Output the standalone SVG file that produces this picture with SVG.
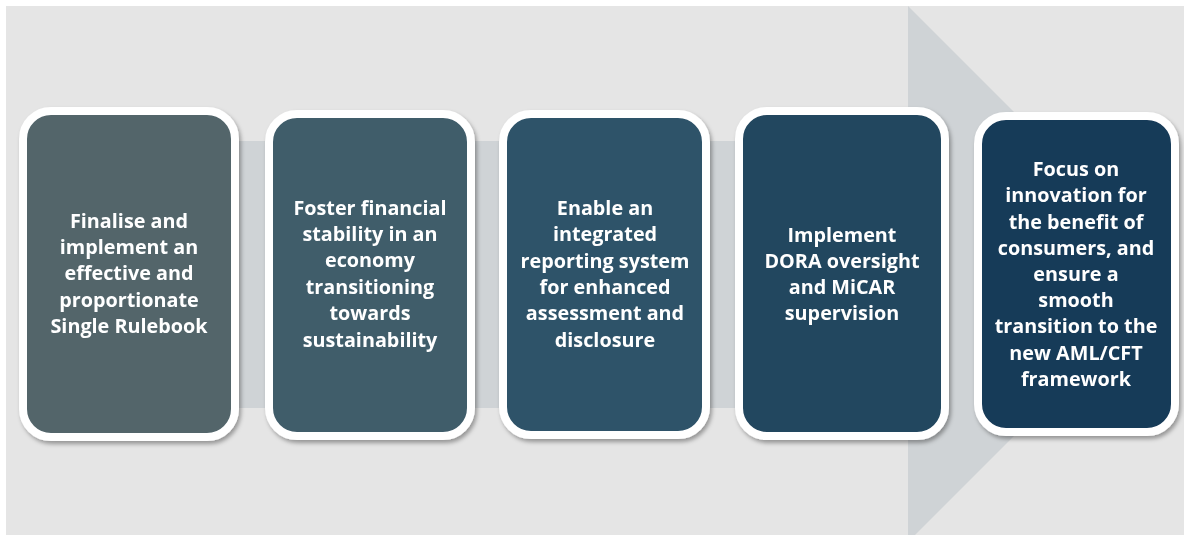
<svg xmlns="http://www.w3.org/2000/svg" width="1184" height="535" viewBox="0 0 1184 535">
<style>
.card{stroke:#ffffff;stroke-width:8;}
.t{font-family:"Open Sans","Liberation Sans",sans-serif;font-weight:700;font-size:19.8px;fill:#ffffff;text-anchor:middle;}
</style>
<defs>
<filter id="sh" x="-10%" y="-10%" width="125%" height="125%">
<feDropShadow dx="2" dy="3" stdDeviation="2" flood-color="#000000" flood-opacity="0.35"/>
</filter>
<clipPath id="bgclip"><rect x="6" y="6" width="1178" height="529"/></clipPath>
</defs>
<rect width="1184" height="535" fill="#ffffff"/>
<rect x="6" y="6" width="1178" height="529" fill="#e5e5e5"/>
<g id="arrow" clip-path="url(#bgclip)">
<path d="M30,141 H908 V6 L1176,274 L908,542 V408 H30 Z" fill="#cfd3d6"/>
</g>
<g id="connectors"></g>
<g id="node1" filter="url(#sh)">
<rect class="card" x="23" y="111" width="212" height="326" rx="28" fill="#52656b"/>
<text class="t" x="129" y="228">Finalise and</text>
<text class="t" x="129" y="254">implement an</text>
<text class="t" x="129" y="280">effective and</text>
<text class="t" x="129" y="307">proportionate</text>
<text class="t" x="129" y="333">Single Rulebook</text>
</g>
<g id="node2" filter="url(#sh)">
<rect class="card" x="269" y="114" width="202" height="322" rx="28" fill="#405d6b"/>
<text class="t" x="370" y="215">Foster financial</text>
<text class="t" x="370" y="241">stability in an</text>
<text class="t" x="370" y="267">economy</text>
<text class="t" x="370" y="294">transitioning</text>
<text class="t" x="370" y="320">towards</text>
<text class="t" x="370" y="347">sustainability</text>
</g>
<g id="node3" filter="url(#sh)">
<rect class="card" x="503" y="114" width="203" height="321" rx="28" fill="#2e5369"/>
<text class="t" x="605" y="215">Enable an</text>
<text class="t" x="605" y="241">integrated</text>
<text class="t" x="605" y="268">reporting system</text>
<text class="t" x="605" y="294">for enhanced</text>
<text class="t" x="605" y="320">assessment and</text>
<text class="t" x="605" y="347">disclosure</text>
</g>
<g id="node4" filter="url(#sh)">
<rect class="card" x="739" y="111" width="206" height="325" rx="28" fill="#22465e"/>
<text class="t" x="842" y="242">Implement</text>
<text class="t" x="842" y="268">DORA oversight</text>
<text class="t" x="842" y="294">and MiCAR</text>
<text class="t" x="842" y="320">supervision</text>
</g>
<g id="node5" filter="url(#sh)">
<rect class="card" x="978" y="116" width="197" height="316" rx="28" fill="#173a58"/>
<text class="t" x="1076" y="176">Focus on</text>
<text class="t" x="1076" y="202">innovation for</text>
<text class="t" x="1076" y="229">the benefit of</text>
<text class="t" x="1076" y="255">consumers, and</text>
<text class="t" x="1076" y="281">ensure a</text>
<text class="t" x="1076" y="307">smooth</text>
<text class="t" x="1076" y="333">transition to the</text>
<text class="t" x="1076" y="360">new AML/CFT</text>
<text class="t" x="1076" y="386">framework</text>
</g>
</svg>
